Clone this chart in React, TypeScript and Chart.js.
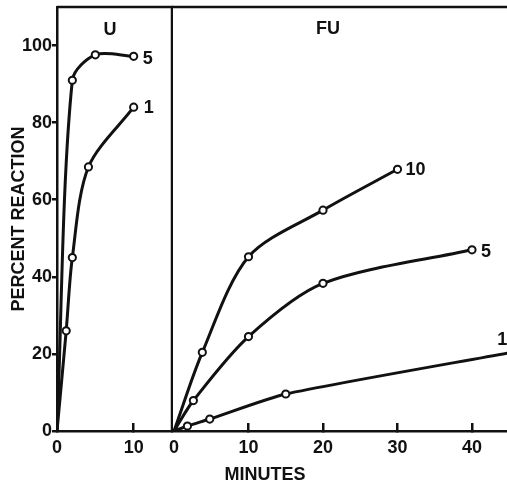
import React, { useEffect, useRef } from "react";
import { Chart, registerables } from "chart.js";
Chart.register(...registerables);

// ---- data ----
const yTicks = [0, 20, 40, 60, 80, 100];
const uTicks = [0, 10];
const fuTicks = [0, 10, 20, 30, 40];

const u5X = [0, 2, 5, 10];
const u5Y = [0, 91, 97.6, 97.2];
const u1X = [0, 1.2, 2, 4.1, 10];
const u1Y = [0, 26, 45, 68.5, 84];

const fu10X = [0, 3.8, 10, 20, 30];
const fu10Y = [0, 20.4, 45.2, 57.3, 67.9];
const fu5X = [0, 2.6, 10, 20, 40];
const fu5Y = [0, 7.9, 24.5, 38.3, 47];
const fu1X = [0, 1.8, 4.8, 15, 45];
const fu1Y = [0, 1.3, 3.1, 9.6, 20.3];

const uLabels = ["5", "1"];
const fuLabels = ["10", "5", "1"];

// ---- styles ----
const INK = "#111";
const FONT = "'Liberation Sans', Arial, sans-serif";
const RIGHT_CANVAS_LEFT = 150;
const RIGHT_PAD = 22;
const toPts = (xs: number[], ys: number[]) => xs.map((x, i) => ({ x, y: ys[i] }));

function lineDs(xs: number[], ys: number[], lastMarker = true, tension = 0.35) {
  const n = xs.length;
  return {
    data: toPts(xs, ys),
    borderColor: INK,
    borderWidth: 3,
    tension,
    pointRadius: (c: any) => (c.dataIndex === 0 || (!lastMarker && c.dataIndex === n - 1) ? 0 : 3.6),
    pointBorderWidth: 2,
    pointBorderColor: INK,
    pointBackgroundColor: "#fff",
    fill: false,
  };
}

const framePlugin = (drawRight: boolean, texts: (chart: any, ctx: CanvasRenderingContext2D) => void) => ({
  id: "frame",
  afterDraw(chart: any) {
    const { ctx, chartArea: a } = chart;
    ctx.save();
    ctx.strokeStyle = INK;
    ctx.lineWidth = 2.5;
    ctx.beginPath();
    ctx.moveTo(a.left, a.top);
    ctx.lineTo(a.right, a.top);
    if (drawRight) ctx.lineTo(a.right, a.bottom + 1);
    ctx.stroke();
    ctx.fillStyle = INK;
    ctx.font = `bold 18px ${FONT}`;
    ctx.textBaseline = "middle";
    texts(chart, ctx);
    ctx.restore();
  },
});

function seriesLabel(chart: any, ctx: CanvasRenderingContext2D, di: number, text: string, dx: number, dy: number) {
  const meta = chart.getDatasetMeta(di);
  const el = meta.data[meta.data.length - 1];
  ctx.textAlign = "left";
  ctx.fillText(text, el.x + dx, el.y + dy);
}

function baseOptions(xMin: number, xMax: number, xTicks: number[], showY: boolean, pad: any) {
  return {
    animation: false,
    responsive: false,
    maintainAspectRatio: false,
    layout: { padding: pad, autoPadding: false },
    plugins: { legend: { display: false }, tooltip: { enabled: false } },
    scales: {
      x: {
        type: "linear",
        min: xMin,
        max: xMax,
        afterBuildTicks: (ax: any) => { ax.ticks = xTicks.map((v) => ({ value: v })); },
        afterFit: (ax: any) => {
          ax.height = 55;
          ax.paddingLeft = 0;
          ax.paddingRight = 0;
        },
        border: { color: INK, width: 2.5 },
        grid: {
          drawOnChartArea: false,
          tickLength: -8,
          lineWidth: 2.5,
          color: (c: any) => (c.tick && c.tick.value === 0 ? "rgba(0,0,0,0)" : INK),
        },
        ticks: { color: INK, font: { family: FONT, size: 18, weight: "bold" }, padding: 14, maxRotation: 0, autoSkip: false },
      },
      y: {
        type: "linear",
        min: 0,
        max: 110,
        display: showY,
        afterBuildTicks: (ax: any) => { ax.ticks = yTicks.map((v) => ({ value: v })); },
        afterFit: (ax: any) => {
          ax.width = showY ? 57 : 0;
          ax.paddingTop = 0;
          ax.paddingBottom = 0;
        },
        border: { color: INK, width: 2.5 },
        grid: { drawOnChartArea: false, tickLength: 5, lineWidth: 2.5, color: INK },
        ticks: { color: INK, font: { family: FONT, size: 18, weight: "bold" }, padding: 0 },
        title: {
          display: showY,
          text: "PERCENT REACTION",
          color: INK,
          font: { family: FONT, size: 18, weight: "bold" },
          padding: { top: 8, bottom: 0 },
        },
      },
    },
  };
}

export default function App() {
  const leftRef = useRef<HTMLCanvasElement>(null);
  const rightRef = useRef<HTMLCanvasElement>(null);

  useEffect(() => {
    const left = new Chart(leftRef.current!, {
      type: "line",
      data: { datasets: [lineDs(u5X, u5Y, true, 0.3), lineDs(u1X, u1Y, true, 0.3)] },
      options: baseOptions(0, 15, uTicks, true, { top: 7, left: 0, right: 1, bottom: 0 }) as any,
      plugins: [
        framePlugin(true, (chart, ctx) => {
          const a = chart.chartArea;
          ctx.textAlign = "center";
          ctx.fillText("U", a.left + 53, 30);
          seriesLabel(chart, ctx, 0, uLabels[0], 9, 3);
          seriesLabel(chart, ctx, 1, uLabels[1], 10, 1);
        }),
      ],
    });
    const right = new Chart(rightRef.current!, {
      type: "line",
      data: { datasets: [lineDs(fu10X, fu10Y, true, 0.3), lineDs(fu5X, fu5Y, true, 0.3), lineDs(fu1X, fu1Y, false, 0.2)] },
      options: baseOptions(-0.27, 44.7, fuTicks, false, { top: 7, left: RIGHT_PAD, right: 0, bottom: 0 }) as any,
      plugins: [
        framePlugin(false, (chart, ctx) => {
          const a = chart.chartArea;
          ctx.textAlign = "center";
          ctx.fillText("FU", a.left + 156, 29);
          ctx.fillText("MINUTES", 265 - RIGHT_CANVAS_LEFT, 475);
          seriesLabel(chart, ctx, 0, fuLabels[0], 8, 1);
          seriesLabel(chart, ctx, 1, fuLabels[1], 9, 2);
          seriesLabel(chart, ctx, 2, fuLabels[2], -12, -13);
        }),
      ],
    });
    return () => {
      left.destroy();
      right.destroy();
    };
  }, []);

  const rightW = 507 - RIGHT_CANVAS_LEFT;
  return (
    <div style={{ position: "fixed", left: 0, top: 0, width: 507, height: 486, background: "#fff" }}>
      <canvas ref={leftRef} width={173} height={486} style={{ position: "absolute", left: 0, top: 0, width: 173, height: 486 }} />
      <canvas ref={rightRef} width={rightW} height={486} style={{ position: "absolute", left: RIGHT_CANVAS_LEFT, top: 0, width: rightW, height: 486 }} />
    </div>
  );
}
